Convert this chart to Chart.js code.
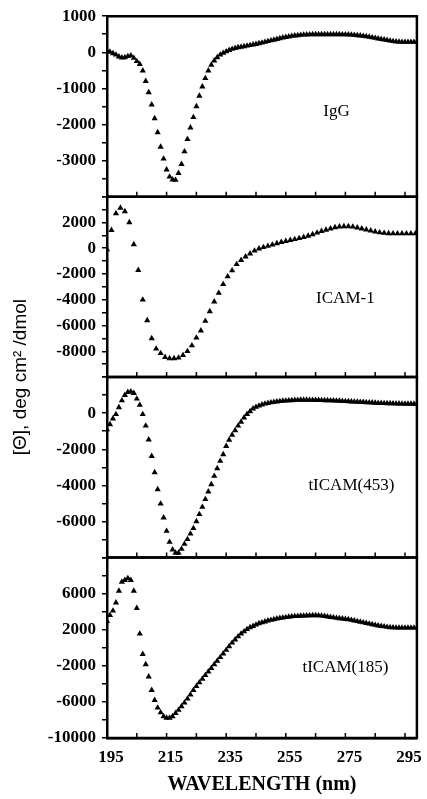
<!DOCTYPE html>
<html>
<head>
<meta charset="utf-8">
<title>CD spectra</title>
<script src="https://cdn.jsdelivr.net/npm/chart.js@4.4.0/dist/chart.umd.min.js"></script>
<style>
    html, body { margin: 0; padding: 0; background: #fff; }
    #wrap { position: relative; width: 427px; height: 799px; }
</style>
</head>
<body>
<div id="wrap"><canvas id="cdChart" width="427" height="799"></canvas></div>
<script>
// wavelength grids (nm)
const wavelengths = [195,196,197,198,199,200,201,202,203,204,205,206,207,208,209,210,211,212,213,214,
    215,216,217,218,219,220,221,222,223,224,225,226,227,228,229,230,231,232,233,234,
    235,236,237,238,239,240,241,242,243,244,245,246,247,248,249,250,251,252,253,254,
    255,256,257,258,259,260,261,262,263,264,265,266,267,268,269,270,271,272,273,274,
    275,276,277,278,279,280,281,282,283,284,285,286,287,288,289,290,291,292,293,294,
    295,296,297,298,299];
const wavelengthsIcam = [195,196.5,198,199.5,201,202.5,204,205.5,207,208.5,
    210,211.5,213,214.5,216,217.5,219,220.5,222,223.5,
    225,226.5,228,229.5,231,232.5,234,235.5,237,238.5,
    240,241.5,243,244.5,246,247.5,249,250.5,252,253.5,
    255,256.5,258,259.5,261,262.5,264,265.5,267,268.5,
    270,271.5,273,274.5,276,277.5,279,280.5,282,283.5,
    285,286.5,288,289.5,291,292.5,294,295.5,297,298.5];

// [Θ] values, deg cm2/dmol
const igG = [40,10,-30,-70,-120,-150,-140,-110,-90,-160,-250,-330,-510,-800,-1110,-1450,-1830,-2220,-2620,-2950,
    -3250,-3450,-3530,-3540,-3350,-3100,-2750,-2410,-2090,-1800,-1500,-1210,-950,-720,-510,-350,-230,-140,-70,-20,
    20,60,90,115,135,150,165,180,195,210,225,245,265,285,305,325,345,365,385,405,
    420,435,450,460,470,478,485,490,493,495,495,497,497,497,497,497,495,495,495,493,
    492,490,485,478,470,460,450,440,425,410,395,380,365,350,335,320,305,295,290,285,
    285,285,285,285,285];
const icam1 = [-100,1400,2700,3130,2850,2000,300,-1700,-4000,-5600,
    -7000,-7800,-8150,-8450,-8550,-8550,-8500,-8300,-8000,-7550,
    -6950,-6400,-5650,-4900,-4150,-3480,-2800,-2200,-1730,-1250,
    -930,-650,-420,-200,-40,70,170,270,370,470,
    550,620,690,770,860,960,1070,1200,1320,1420,
    1520,1620,1670,1690,1690,1660,1600,1520,1440,1360,
    1280,1220,1180,1150,1140,1140,1140,1140,1140,1140];
const ticam453 = [-900,-620,-300,-60,320,700,1000,1170,1190,1110,800,450,-60,-700,-1470,-2380,-3280,-4220,-5020,-5790,
    -6530,-7140,-7560,-7740,-7740,-7530,-7250,-6990,-6680,-6380,-6000,-5600,-5200,-4770,-4350,-3950,-3480,-3060,-2650,-2280,
    -1830,-1480,-1200,-950,-700,-480,-250,-50,100,250,340,410,470,520,560,590,620,640,660,680,
    690,700,710,720,730,735,735,735,730,730,725,720,715,710,705,700,695,690,680,670,
    660,650,640,630,625,620,610,600,590,580,570,560,555,550,545,540,535,530,525,520,
    515,515,515,515,515];
const ticam185 = [2950,3600,4100,5000,6300,7300,7500,7700,7500,6300,4400,1550,-700,-1850,-3200,-4700,-5800,-6650,-7180,-7610,
    -7780,-7780,-7600,-7250,-6900,-6500,-6100,-5650,-5200,-4700,-4250,-3850,-3450,-3050,-2650,-2250,-1850,-1450,-1050,-650,
    -250,150,550,900,1250,1550,1800,2050,2250,2400,2550,2700,2800,2900,3000,3080,3150,3220,3280,3330,
    3380,3420,3460,3490,3510,3530,3550,3560,3570,3580,3580,3570,3550,3500,3450,3400,3350,3300,3260,3220,
    3180,3140,3080,3010,2940,2870,2800,2730,2660,2590,2520,2460,2400,2350,2300,2260,2240,2220,2220,2220,
    2220,2220,2220,2220,2220];

// axis ticks and labels
const xTickValues = [195,205,215,225,235,245,255,265,275,285,295];
const xTickLabels = [195,215,235,255,275,295];
const yLabelsIgG = [1000,0,-1000,-2000,-3000];
const yLabelsIcam = [2000,0,-2000,-4000,-6000,-8000];
const yLabels453 = [0,-2000,-4000,-6000];
const yLabels185 = [6000,2000,-2000,-6000,-10000];

const panelNames = ['IgG', 'ICAM-1', 'tICAM(453)', 'tICAM(185)'];

const serif = '"Liberation Serif", "Times New Roman", serif';
const tickFont = { family: serif, size: 17, weight: 'bold' };

function pairs(xs, ys) {
    return xs.map((x, i) => ({ x: x, y: ys[i] }));
}

function panelAxis(min, max, step, labels, weight) {
    return {
        type: 'linear',
        position: 'left',
        stack: 'cd',
        stackWeight: 1,
        weight: weight,
        min: min,
        max: max,
        afterFit: function(scale) { scale.width = 107; },
        grid: { drawOnChartArea: false, drawTicks: true, tickLength: 5, color: '#000', lineWidth: 1.5 },
        border: { display: true, color: '#000', width: 2.5 },
        ticks: {
            stepSize: step,
            autoSkip: false,
            padding: 6,
            color: '#000',
            font: tickFont,
            callback: function(value) {
                return labels.includes(value) ? String(value) : '';
            }
        }
    };
}

function panelDataset(xs, ys, axisId) {
    return {
        data: pairs(xs, ys),
        yAxisID: axisId,
        showLine: false,
        pointStyle: 'triangle',
        pointRadius: 3.6,
        pointBorderWidth: 0,
        pointBackgroundColor: '#000',
        pointBorderColor: '#000'
    };
}

const panelAxisIds = ['yIgG', 'yIcam', 'y453', 'y185'];
// where each panel's name sits, in its own data units
const panelLabelSpots = [[272, -1650], [275, -3900], [277, -4000], [275, -2200]];

// boxes round each panel, inward x ticks, panel names, y title
const panelFrame = {
    id: 'panelFrame',
    afterDraw(chart) {
        const { ctx, chartArea, scales } = chart;
        const xs = scales.x;
        ctx.save();
        ctx.strokeStyle = '#000';
        panelAxisIds.forEach((id, i) => {
            const s = scales[id];
            ctx.lineWidth = 2.5;
            ctx.beginPath();
            ctx.moveTo(chartArea.left, s.top);
            ctx.lineTo(chartArea.right, s.top);
            ctx.lineTo(chartArea.right, s.bottom);
            ctx.lineTo(chartArea.left, s.bottom);
            ctx.stroke();
            ctx.lineWidth = 1.5;
            ctx.beginPath();
            xTickValues.forEach(v => {
                const px = xs.getPixelForValue(v);
                ctx.moveTo(px, s.bottom);
                ctx.lineTo(px, s.bottom - 5);
            });
            ctx.stroke();

            const spot = panelLabelSpots[i];
            ctx.fillStyle = '#000';
            ctx.font = '17px ' + serif;
            ctx.textAlign = 'center';
            ctx.textBaseline = 'middle';
            ctx.fillText(panelNames[i], xs.getPixelForValue(spot[0]), s.getPixelForValue(spot[1]));
        });

        ctx.translate(21, (chartArea.top + chartArea.bottom) / 2);
        ctx.rotate(-Math.PI / 2);
        ctx.font = '19px "Liberation Sans", Arial, sans-serif';
        ctx.textAlign = 'center';
        ctx.textBaseline = 'middle';
        ctx.fillText('[\u0398], deg cm\u00B2 /dmol', 0, 0);
        ctx.restore();
    }
};

const ctx = document.getElementById('cdChart');
new Chart(ctx, {
    type: 'scatter',
    data: {
        datasets: [
            panelDataset(wavelengths, igG, 'yIgG'),
            panelDataset(wavelengthsIcam, icam1, 'yIcam'),
            panelDataset(wavelengths, ticam453, 'y453'),
            panelDataset(wavelengths, ticam185, 'y185')
        ]
    },
    options: {
        responsive: false,
        animation: false,
        layout: { padding: { top: 15, right: 7, left: 0, bottom: 0 } },
        plugins: {
            legend: { display: false },
            tooltip: { enabled: false }
        },
        scales: {
            x: {
                type: 'linear',
                position: 'bottom',
                min: 195,
                max: 299,
                afterFit: function(scale) { scale.height = 61; },
                afterBuildTicks: function(scale) {
                    scale.ticks = xTickValues.map(v => ({ value: v }));
                },
                grid: { display: false, drawTicks: false },
                border: { display: true, color: '#000', width: 2.5 },
                ticks: {
                    autoSkip: false,
                    maxRotation: 0,
                    padding: 9,
                    labelOffset: 4,
                    color: '#000',
                    font: tickFont,
                    callback: function(value) {
                        return xTickLabels.includes(value) ? String(value) : '';
                    }
                },
                title: {
                    display: true,
                    text: 'WAVELENGTH (nm)',
                    color: '#000',
                    font: { family: serif, size: 20, weight: 'bold' },
                    padding: { top: 0, bottom: 2 }
                }
            },
            yIgG: panelAxis(-4000, 1000, 500, yLabelsIgG, 4),
            yIcam: panelAxis(-10000, 4000, 1000, yLabelsIcam, 3),
            y453: panelAxis(-8000, 2000, 1000, yLabels453, 2),
            y185: panelAxis(-10000, 10000, 2000, yLabels185, 1)
        }
    },
    plugins: [panelFrame]
});
</script>
</body>
</html>
